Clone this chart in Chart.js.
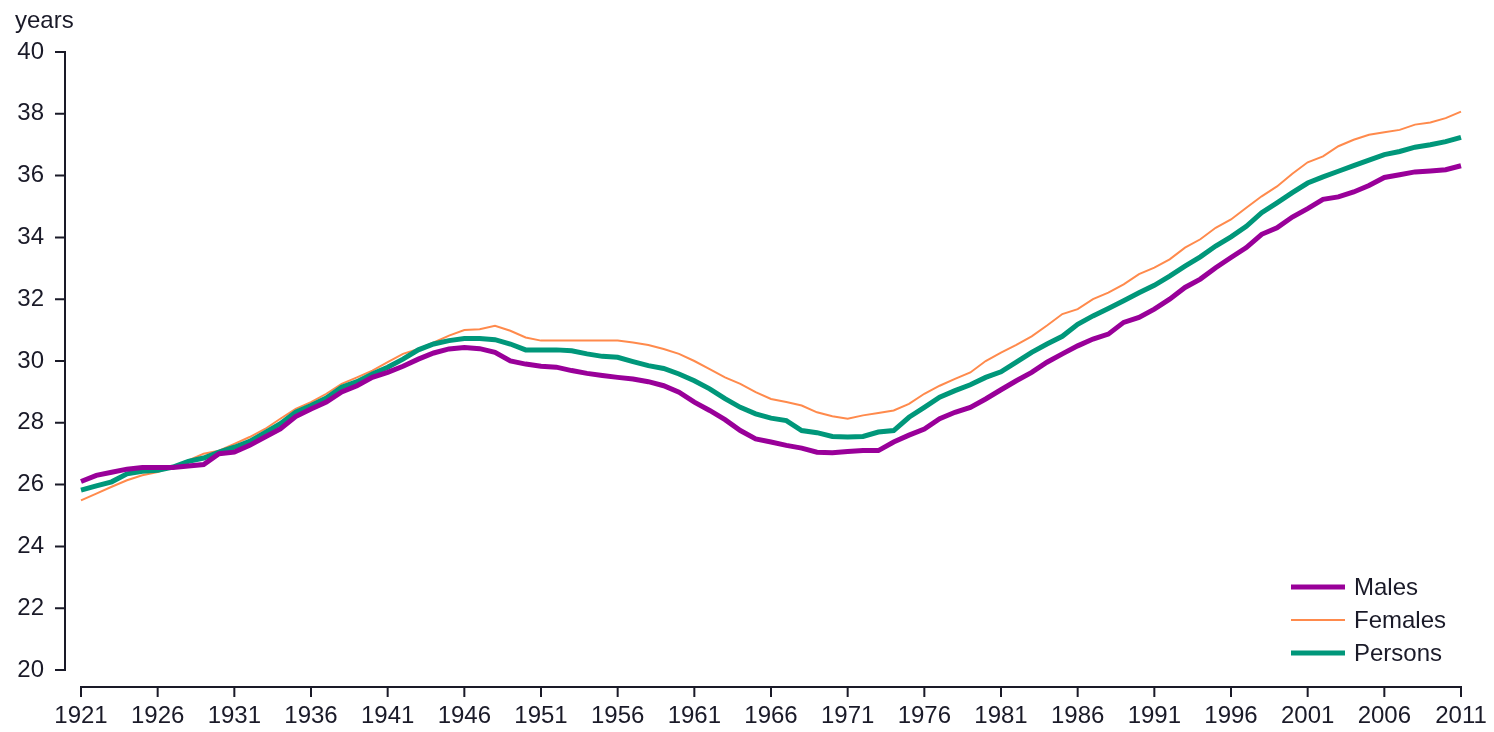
<!DOCTYPE html>
<html>
<head>
<meta charset="utf-8">
<style>
  html, body { margin: 0; background: #fff; }
  #wrap { width: 1494px; height: 732px; }
</style>
<script src="https://cdn.jsdelivr.net/npm/chart.js@4.4.1/dist/chart.umd.min.js"></script>
</head>
<body>
<div id="wrap"><canvas id="c" width="1494" height="732"></canvas></div>
<script>
const FONT = "'Liberation Sans', Arial, sans-serif";
const INK = "#1a1a28";

const years = [
  1921, 1922, 1923, 1924, 1925, 1926, 1927, 1928, 1929, 1930,
  1931, 1932, 1933, 1934, 1935, 1936, 1937, 1938, 1939, 1940,
  1941, 1942, 1943, 1944, 1945, 1946, 1947, 1948, 1949, 1950,
  1951, 1952, 1953, 1954, 1955, 1956, 1957, 1958, 1959, 1960,
  1961, 1962, 1963, 1964, 1965, 1966, 1967, 1968, 1969, 1970,
  1971, 1972, 1973, 1974, 1975, 1976, 1977, 1978, 1979, 1980,
  1981, 1982, 1983, 1984, 1985, 1986, 1987, 1988, 1989, 1990,
  1991, 1992, 1993, 1994, 1995, 1996, 1997, 1998, 1999, 2000,
  2001, 2002, 2003, 2004, 2005, 2006, 2007, 2008, 2009, 2010,
  2011,
];

// median age, years
const males = [
  26.10, 26.30, 26.40, 26.50, 26.55, 26.55, 26.55, 26.60, 26.65, 27.00,
  27.05, 27.27, 27.54, 27.80, 28.20, 28.45, 28.67, 29.00, 29.20, 29.47,
  29.63, 29.83, 30.06, 30.26, 30.39, 30.44, 30.40, 30.28, 30.00, 29.90,
  29.83, 29.80, 29.69, 29.60, 29.53, 29.47, 29.42, 29.33, 29.20, 28.99,
  28.67, 28.40, 28.10, 27.75, 27.48, 27.38, 27.27, 27.18, 27.05, 27.03,
  27.07, 27.10, 27.10, 27.38, 27.60, 27.80, 28.13, 28.34, 28.50, 28.77,
  29.07, 29.36, 29.63, 29.96, 30.23, 30.49, 30.71, 30.87, 31.25, 31.41,
  31.68, 32.00, 32.38, 32.65, 33.02, 33.35, 33.67, 34.10, 34.31, 34.66,
  34.93, 35.23, 35.31, 35.47, 35.68, 35.94, 36.03, 36.12, 36.15, 36.19,
  36.32,
];
const females = [
  25.49, 25.71, 25.93, 26.14, 26.30, 26.41, 26.57, 26.78, 27.00, 27.10,
  27.32, 27.54, 27.80, 28.13, 28.45, 28.67, 28.94, 29.26, 29.47, 29.69,
  29.96, 30.23, 30.39, 30.60, 30.82, 31.00, 31.03, 31.14, 30.98, 30.76,
  30.66, 30.66, 30.66, 30.66, 30.66, 30.66, 30.60, 30.52, 30.39, 30.23,
  30.00, 29.74, 29.47, 29.26, 28.99, 28.77, 28.67, 28.56, 28.34, 28.21,
  28.13, 28.24, 28.32, 28.40, 28.61, 28.94, 29.20, 29.42, 29.63, 30.00,
  30.27, 30.52, 30.80, 31.15, 31.52, 31.68, 32.00, 32.21, 32.48, 32.81,
  33.02, 33.29, 33.67, 33.94, 34.31, 34.58, 34.96, 35.33, 35.65, 36.06,
  36.43, 36.62, 36.95, 37.16, 37.32, 37.40, 37.48, 37.65, 37.72, 37.86,
  38.07,
];
const persons = [
  25.82, 25.96, 26.09, 26.35, 26.43, 26.46, 26.57, 26.75, 26.86, 27.05,
  27.21, 27.40, 27.68, 27.97, 28.34, 28.56, 28.80, 29.15, 29.33, 29.58,
  29.80, 30.06, 30.36, 30.55, 30.66, 30.73, 30.73, 30.69, 30.55, 30.36,
  30.36, 30.36, 30.33, 30.23, 30.15, 30.12, 29.98, 29.85, 29.76, 29.58,
  29.36, 29.10, 28.78, 28.50, 28.29, 28.15, 28.07, 27.75, 27.68, 27.56,
  27.54, 27.56, 27.70, 27.75, 28.18, 28.50, 28.83, 29.04, 29.23, 29.47,
  29.65, 29.96, 30.28, 30.55, 30.80, 31.19, 31.46, 31.70, 31.95, 32.21,
  32.45, 32.75, 33.07, 33.37, 33.72, 34.02, 34.36, 34.80, 35.12, 35.45,
  35.76, 35.96, 36.14, 36.32, 36.50, 36.68, 36.78, 36.92, 37.00, 37.10,
  37.24,
];

// legend order = series order; `order` controls which line sits on top
const series = [
  { label: "Males",   data: males,   color: "#990099", width: 5, order: 0 },
  { label: "Females", data: females, color: "#ff8a4c", width: 2, order: 2 },
  { label: "Persons", data: persons, color: "#00977a", width: 5, order: 1 },
];

// Excel-style detached axes, "years" unit label and an in-plot legend
const decor = {
  id: "decor",
  afterDraw(chart) {
    const { ctx, chartArea: a, scales: { x, y } } = chart;
    ctx.save();
    ctx.strokeStyle = INK;
    ctx.lineWidth = 2;
    ctx.lineCap = "butt";

    // y axis line + ticks
    const ax = a.left - 16;
    ctx.beginPath();
    ctx.moveTo(ax, y.getPixelForValue(40));
    ctx.lineTo(ax, y.getPixelForValue(20));
    for (const t of y.ticks) {
      const py = y.getPixelForValue(t.value);
      ctx.moveTo(ax - 10, py);
      ctx.lineTo(ax + 1, py);
    }
    ctx.stroke();

    // x axis line + ticks
    const ay = a.bottom + 17;
    ctx.beginPath();
    ctx.moveTo(x.getPixelForValue(0) - 1, ay);
    ctx.lineTo(x.getPixelForValue(years.length - 1) + 1, ay);
    years.forEach((yr, i) => {
      if (i % 5 !== 0) return;
      const px = x.getPixelForValue(i);
      ctx.moveTo(px, ay);
      ctx.lineTo(px, ay + 10);
    });
    ctx.stroke();

    ctx.fillStyle = INK;
    ctx.font = `24px ${FONT}`;
    ctx.textAlign = "left";
    ctx.textBaseline = "alphabetic";
    ctx.fillText("years", 15, 28);

    // legend, bottom right inside the plot
    ctx.textBaseline = "middle";
    series.forEach((s, i) => {
      const ly = a.bottom - 83 + i * 33;
      const lx = a.right - 170;
      ctx.strokeStyle = s.color;
      ctx.lineWidth = s.width;
      ctx.beginPath();
      ctx.moveTo(lx, ly);
      ctx.lineTo(lx + 54, ly);
      ctx.stroke();
      ctx.fillStyle = INK;
      ctx.fillText(s.label, lx + 63, ly + 1);
    });
    ctx.restore();
  },
};

new Chart(document.getElementById("c"), {
  type: "line",
  data: {
    labels: years.map(String),
    datasets: series.map((s) => ({
      label: s.label,
      data: s.data,
      borderColor: s.color,
      backgroundColor: s.color,
      borderWidth: s.width,
      pointRadius: 0,
      tension: 0,
      order: s.order,
    })),
  },
  options: {
    responsive: false,
    animation: false,
    devicePixelRatio: 1,
    layout: { padding: { top: 52, right: 33, bottom: 0, left: 0 } },
    plugins: { legend: { display: false }, tooltip: { enabled: false } },
    scales: {
      x: {
        type: "category",
        grid: { display: false, drawTicks: false },
        border: { display: false },
        ticks: {
          autoSkip: false,
          maxRotation: 0,
          minRotation: 0,
          padding: 32,
          color: INK,
          font: { family: FONT, size: 24 },
          callback: (v, i) => (i % 5 === 0 ? String(years[i]) : null),
        },
        afterFit: (s) => { s.height = 62; s.paddingLeft = 0; s.paddingRight = 0; },
      },
      y: {
        min: 20,
        max: 40,
        grid: { display: false, drawTicks: false },
        border: { display: false },
        ticks: {
          stepSize: 2,
          padding: 37,
          color: INK,
          font: { family: FONT, size: 24 },
        },
        afterFit: (s) => { s.width = 81; s.paddingTop = 0; s.paddingBottom = 0; },
      },
    },
  },
  plugins: [decor],
});
</script>
</body>
</html>
